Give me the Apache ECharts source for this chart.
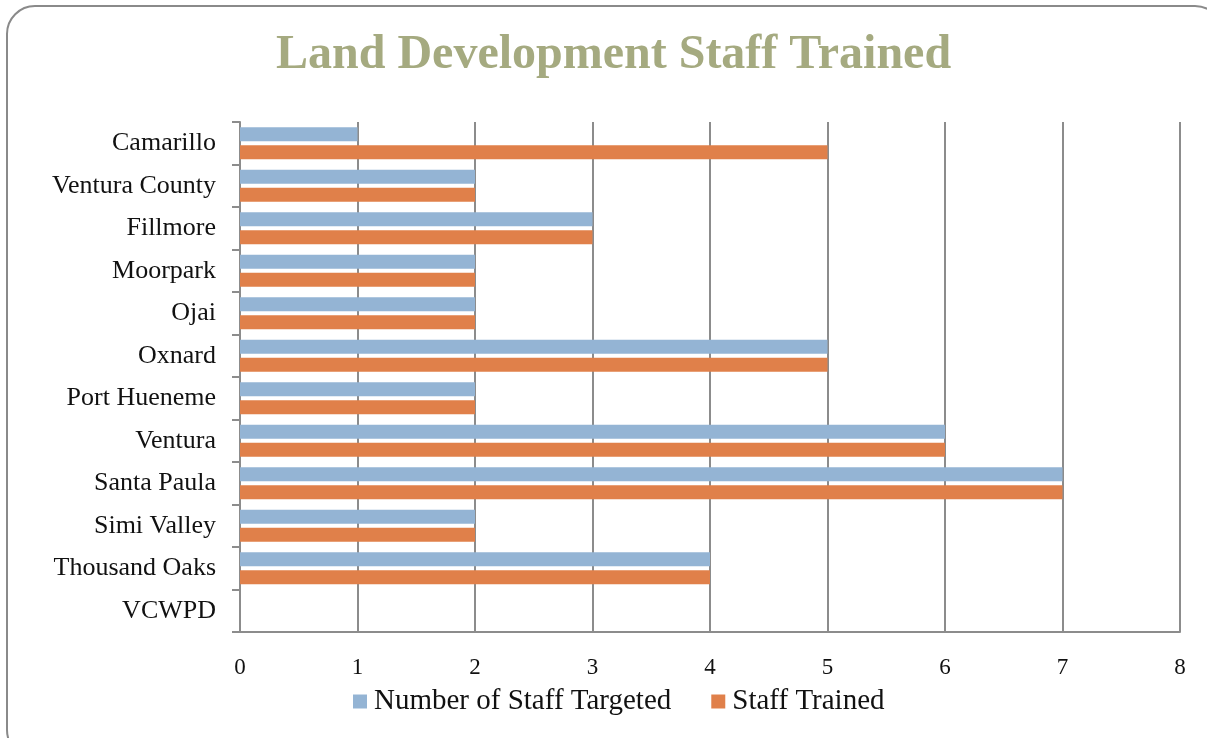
<!DOCTYPE html>
<html>
<head>
<meta charset="utf-8">
<script src="https://cdn.jsdelivr.net/npm/echarts@6/dist/echarts.min.js"></script>
<style>
  html, body { margin: 0; padding: 0; background: #fff; }
  #chart { width: 1207px; height: 738px; }
</style>
</head>
<body>
<div id="chart"></div>
<script>
    'use strict'

    /* Chart data */
    var cities = ['Camarillo', 'Ventura County', 'Fillmore', 'Moorpark', 'Ojai', 'Oxnard',
        'Port Hueneme', 'Ventura', 'Santa Paula', 'Simi Valley', 'Thousand Oaks', 'VCWPD'];
    var staffTargeted = [1, 2, 3, 2, 2, 5, 2, 6, 7, 2, 4, 0];
    var staffTrained = [5, 2, 3, 2, 2, 5, 2, 6, 7, 2, 4, 0];
    var xTicks = [0, 8, 1];   // min, max, interval

    var serif = '"Liberation Serif", "DejaVu Serif", serif';
    var gridColor = '#8c8c8c';

    var chart = echarts.init(document.getElementById('chart'));

    chart.setOption({
        animation: false,
        title: {
            text: 'Land Development Staff Trained',
            left: 271,
            top: 27,
            textStyle: {
                fontFamily: serif,
                fontSize: 48,
                fontWeight: 'bold',
                color: '#a5aa80'
            }
        },
        graphic: [{
            type: 'rect',
            shape: { x: 7, y: 6, width: 1216, height: 752, r: 28 },
            style: { fill: 'none', stroke: '#8a8a8a', lineWidth: 2 },
            silent: true
        }],
        legend: {
            bottom: 17,
            left: 348,
            itemWidth: 14,
            itemHeight: 14,
            itemGap: 40,
            icon: 'rect',
            textStyle: { fontFamily: serif, fontSize: 29, color: '#111', padding: [0, 0, 0, 2] },
            data: ['Number of Staff Targeted', 'Staff Trained']
        },
        grid: {
            top: 122,
            left: 240,
            right: 27,
            bottom: 106
        },
        xAxis: {
            type: 'value',
            min: xTicks[0],
            max: xTicks[1],
            interval: xTicks[2],
            axisLine: { show: true, lineStyle: { color: gridColor, width: 2 } },
            axisTick: { show: false },
            splitLine: { lineStyle: { color: gridColor, width: 2 } },
            axisLabel: {
                margin: 24,
                fontFamily: serif,
                fontSize: 23,
                color: '#111'
            }
        },
        yAxis: {
            type: 'category',
            inverse: true,
            data: cities,
            axisLine: { lineStyle: { color: gridColor, width: 2 } },
            axisTick: { show: true, length: 8, lineStyle: { color: gridColor, width: 2 } },
            axisLabel: {
                margin: 24,
                fontFamily: serif,
                fontSize: 26,
                color: '#111'
            }
        },
        series: [
            {
                name: 'Number of Staff Targeted',
                type: 'bar',
                barWidth: 14,
                barGap: '28%',
                data: staffTargeted,
                itemStyle: { color: '#94b4d4' }
            },
            {
                name: 'Staff Trained',
                type: 'bar',
                barWidth: 14,
                barGap: '28%',
                data: staffTrained,
                itemStyle: { color: '#e0804a' }
            }
        ]
    });
</script>
</body>
</html>
